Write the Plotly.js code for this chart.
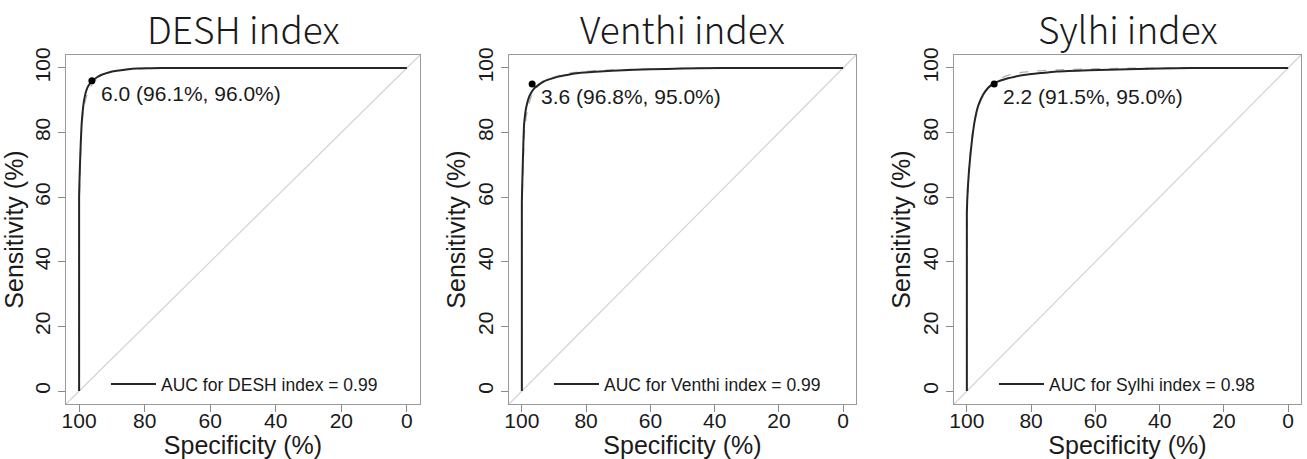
<!DOCTYPE html>
<html>
<head>
<meta charset="utf-8">
<script src="https://cdn.plot.ly/plotly-3.0.1.min.js"></script>
<style>html,body{margin:0;padding:0;background:#fff;}#chart{width:1307px;height:459px;}</style>
</head>
<body>
<div id="chart"></div>
<script>
// ---- data ----
const panelTitles = ["DESH index", "Venthi index", "Sylhi index"];
const aucValues = [0.99, 0.99, 0.98];
const cutoffs = [6.0, 3.6, 2.2];
const cutSpec = [96.1, 96.8, 91.5];
const cutSens = [96.0, 95.0, 95.0];
const tickValues = [0, 20, 40, 60, 80, 100];

const deshSpec = [100, 100, 99.8, 99.6, 99.2, 98.7, 98.2, 97.5, 96.6, 95.6, 94.4, 93.1, 91, 88.5, 85.5, 82.4, 78, 72, 60, 40, 20, 0];
const deshSens = [0, 60, 68, 74, 83, 88.5, 91.5, 93.8, 95.3, 96.3, 97.2, 97.9, 98.6, 99.1, 99.5, 99.8, 99.9, 100, 100, 100, 100, 100];
const deshSmoothSpec = [100, 99.9, 99.6, 99.2, 98.6, 97.8, 96.8, 95.5, 93.8, 91.5, 88.5, 85, 80, 75, 70, 60, 40, 20, 0];
const deshSmoothSens = [0, 60, 72, 82, 87.5, 91, 93.6, 95.6, 97.2, 98.4, 99.2, 99.6, 99.9, 100, 100, 100, 100, 100, 100];

const venthiSpec = [100, 100, 99.85, 99.6, 99.3, 98.6, 97.6, 96.2, 94.6, 93.2, 91, 88.6, 85.5, 82.3, 77, 72, 65, 55, 45, 30, 15, 0];
const venthiSens = [0, 58, 65, 74, 82.5, 88, 91.4, 93.6, 94.9, 95.8, 96.6, 97.3, 97.9, 98.4, 98.8, 99.1, 99.4, 99.7, 99.9, 100, 100, 100];
const venthiSmoothSpec = [100, 99.9, 99.6, 99.1, 98.2, 97.0, 95.5, 93.6, 91.2, 88.3, 85, 80, 74, 65, 55, 40, 20, 0];
const venthiSmoothSens = [0, 58, 70, 81, 87.5, 91.3, 93.8, 95.6, 96.8, 97.7, 98.4, 98.9, 99.3, 99.6, 99.8, 100, 100, 100];

const sylhiSpec = [100, 100, 99.7, 98.9, 97.6, 96.4, 95.0, 93.5, 92.5, 91.4, 89.5, 87.2, 85, 82.3, 77, 72, 62, 50, 30, 15, 0];
const sylhiSens = [0, 55, 62.8, 73, 83.4, 88.5, 91.6, 93.7, 94.6, 95.3, 96.1, 96.8, 97.3, 97.8, 98.4, 98.9, 99.3, 99.6, 100, 100, 100];
const sylhiSmoothSpec = [100, 99.9, 99.4, 98.4, 97.0, 95.4, 93.6, 91.6, 89.2, 86.5, 83, 78, 72, 62, 50, 35, 20, 0];
const sylhiSmoothSens = [0, 55, 68, 79, 86, 90.5, 93.5, 95.5, 96.9, 97.9, 98.6, 99.1, 99.4, 99.7, 99.9, 100, 100, 100];

const curves = [
  {spec: deshSpec, sens: deshSens, sSpec: deshSmoothSpec, sSens: deshSmoothSens},
  {spec: venthiSpec, sens: venthiSens, sSpec: venthiSmoothSpec, sSens: venthiSmoothSens},
  {spec: sylhiSpec, sens: sylhiSens, sSpec: sylhiSmoothSpec, sSens: sylhiSmoothSens}
];

// ---- layout geometry ----
const W = 1307, H = 459;
const boxes = [[66, 420], [509, 856], [954, 1301]];
const boxTop = 55, boxBottom = 404;
const yDom = [(H - boxBottom) / H, (H - boxTop) / H];

const tickFont = {family: "Liberation Sans, Arial, sans-serif", size: 21, color: "#1a1a1a"};
const axTitleFont = {family: "Liberation Sans, Arial, sans-serif", size: 25, color: "#1a1a1a"};

const traces = [];
const layout = {
  width: W, height: H,
  margin: {l: 0, r: 0, t: 0, b: 0},
  paper_bgcolor: "#fff", plot_bgcolor: "#fff",
  showlegend: true,
  annotations: [], shapes: []
};

for (let i = 0; i < 3; i++) {
  const sfx = i === 0 ? "" : String(i + 1);
  const xa = "x" + sfx, ya = "y" + sfx;
  const legName = "legend" + sfx;
  const c = curves[i];
  traces.push({
    x: c.sSpec, y: c.sSens, xaxis: xa, yaxis: ya, type: "scatter", mode: "lines",
    line: {color: "#b0b0b0", width: 1.3, dash: "dash", shape: "spline", smoothing: 0.6},
    showlegend: false, hoverinfo: "skip"
  });
  traces.push({
    x: c.spec, y: c.sens, xaxis: xa, yaxis: ya, type: "scatter", mode: "lines",
    line: {color: "#262626", width: 2, shape: "spline", smoothing: 0.6},
    name: "AUC for " + panelTitles[i] + " = " + aucValues[i].toFixed(2),
    legend: legName, showlegend: true
  });
  traces.push({
    x: [cutSpec[i]], y: [cutSens[i]], xaxis: xa, yaxis: ya, type: "scatter", mode: "markers",
    marker: {color: "#000", size: 7}, showlegend: false
  });

  const xDom = [boxes[i][0] / W, boxes[i][1] / W];
  layout["xaxis" + sfx] = {
    domain: xDom, anchor: ya, range: [104, -4], tickvals: tickValues,
    showgrid: false, zeroline: false, showline: true, mirror: true,
    linecolor: "#9a9a9a", linewidth: 1, ticks: "outside", ticklen: 7, tickcolor: "#8a8a8a",
    tickfont: tickFont, automargin: false, ticklabelstandoff: -9,
    title: {text: "Specificity (%)", font: axTitleFont, standoff: 0}
  };
  layout["yaxis" + sfx] = {
    domain: yDom, anchor: xa, range: [-4, 104], tickvals: tickValues,
    showgrid: false, zeroline: false, showline: true, mirror: true,
    linecolor: "#9a9a9a", linewidth: 1, ticks: "outside", ticklen: 7, tickcolor: "#8a8a8a",
    tickfont: tickFont, tickangle: -90, automargin: false,
    title: {text: "Sensitivity (%)", font: axTitleFont, standoff: 0}
  };
  layout[legName] = {
    x: (boxes[i][0] + 40) / W, xanchor: "left",
    y: (H - 384) / H, yanchor: "middle",
    bgcolor: "rgba(0,0,0,0)", borderwidth: 0, itemwidth: 45,
    font: {family: "Liberation Sans, Arial, sans-serif", size: 17.5, color: "#1a1a1a"}
  };
  layout.shapes.push({
    type: "line", xref: xa + " domain", yref: ya + " domain", x0: 0, y0: 0, x1: 1, y1: 1,
    line: {color: "#d4d4d4", width: 1.2}, layer: "below"
  });
  layout.annotations.push({
    text: panelTitles[i], xref: "paper", yref: "paper",
    x: (boxes[i][0] + boxes[i][1]) / 2 / W, y: (H - 28) / H,
    xanchor: "center", yanchor: "middle", showarrow: false,
    font: {family: "Noto Sans CJK JP, Noto Sans, sans-serif", size: 37, weight: 300, color: "#1a1a1a"}
  });
  layout.annotations.push({
    text: cutoffs[i].toFixed(1) + " (" + cutSpec[i].toFixed(1) + "%, " + cutSens[i].toFixed(1) + "%)",
    xref: xa, yref: ya, x: cutSpec[i], y: cutSens[i],
    xanchor: "left", yanchor: "top", xshift: 7, yshift: 1, showarrow: false,
    font: {family: "Liberation Sans, Arial, sans-serif", size: 21, color: "#1a1a1a"}
  });
}

Plotly.newPlot("chart", traces, layout, {displayModeBar: false, staticPlot: true});
</script>
</body>
</html>
